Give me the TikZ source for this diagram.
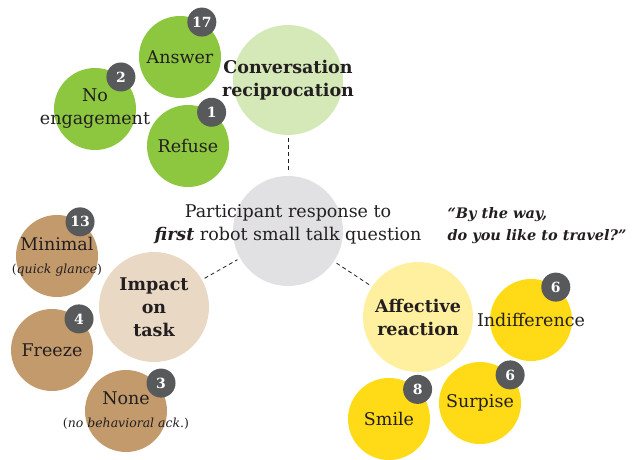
\documentclass[tikz,border=0pt]{standalone}
\usepackage{fontspec}
\setmainfont{DejaVu Serif}
\usepackage{xcolor}
\usetikzlibrary{positioning}

\definecolor{leafgreen}{HTML}{8DC63F}
\definecolor{hubgreen}{HTML}{D5E8B8}
\definecolor{hubgrey}{HTML}{E1E1E3}
\definecolor{leaftan}{HTML}{C39A6B}
\definecolor{hubtan}{HTML}{E9D8C4}
\definecolor{leafyellow}{HTML}{FFDA17}
\definecolor{hubyellow}{HTML}{FFF0A0}
\definecolor{badgegrey}{HTML}{58595B}
\definecolor{ink}{HTML}{231F20}

\newcommand{\notesize}{\fontsize{12.5}{14}\selectfont}

\begin{document}
\begin{tikzpicture}[
    x=1pt, y=-1pt,
    font=\fontsize{17.5}{23}\selectfont,
    % Styles
    hub/.style={circle, fill=#1, minimum size=110pt, inner sep=0pt},
    leaf/.style={circle, fill=#1, minimum size=82pt, inner sep=0pt},
    badge/.style={circle, fill=badgegrey, minimum size=29pt, inner sep=0pt, text=white, font=\fontsize{14}{14}\selectfont\bfseries},
    txt/.style={align=center, text=ink},
    hubtxt/.style={align=center, text=ink, font=\fontsize{17.5}{23}\selectfont\bfseries},
    link/.style={draw=ink, line width=0.8pt, dash pattern=on 4pt off 3pt, shorten >=3pt, shorten <=3pt}
]
\useasboundingbox (0,0) rectangle (634,459);

% --- Centre ---
\node[hub=hubgrey] (resp) at (288,231) {};
\node[txt] (resptext) at (288,224) {Participant response to\\\textbf{\textit{first}} robot small talk question};
\node[txt, font=\fontsize{14.5}{22}\selectfont\bfseries\itshape, align=left, anchor=west] (quote) at (444,226) {``By the way,\\do you like to travel?''};

% --- Conversation reciprocation (Top) ---
\node[hub=hubgreen] (conv) at (288,80) {};
\node[leaf=leafgreen] (answer) at (180,57) {};
\node[leaf=leafgreen] (noeng) at (95,109) {};
\node[leaf=leafgreen] (refuse) at (188,146) {};

\node[hubtxt] (convtext) at (conv) {Conversation\\reciprocation};
\node[txt] (answertext) at (answer) {Answer};
\node[txt] (noengtext) at (noeng) {No\\engagement};
\node[txt] (refusetext) at (refuse) {Refuse};

\node[badge] (answerbadge) at (answer.58) {17};
\node[badge] (noengbadge) at (noeng.51) {2};
\node[badge] (refusebadge) at (refuse.55) {1};

% --- Impact on task (Left) ---
\node[hub=hubtan] (impact) at (154,307) {};
\node[leaf=leaftan] (minimal) at (57,256) {};
\node[leaf=leaftan] (freeze) at (52,350) {};
\node[leaf=leaftan] (none) at (126,411) {};

\node[hubtxt] (impacttext) at (impact) {Impact\\on\\task};
\node[txt] (minimaltext) at (57,257) {Minimal\\{\notesize(\textit{quick glance})}};
\node[txt] (freezetext) at (freeze) {Freeze};
\node[txt] (nonetext) at (126,411) {None\\{\notesize(\textit{no behavioral ack.})}};

\node[badge] (minimalbadge) at (minimal.56) {13};
\node[badge] (freezebadge) at (freeze.49) {4};
\node[badge, xshift=3pt, yshift=2pt] (nonebadge) at (none.39) {3};

% --- Affective reaction (Right) ---
\node[hub=hubyellow] (affect) at (418,317) {};
\node[leaf=leafyellow] (indiff) at (531,320) {};
\node[leaf=leafyellow] (surprise) at (480,403) {};
\node[leaf=leafyellow] (smile) at (389,419) {};

\node[hubtxt] (affecttext) at (affect) {Affective\\reaction};
\node[txt] (indifftext) at (indiff) {Indifference};
\node[txt] (surprisetext) at (surprise) {Surpise};
\node[txt] (smiletext) at (smile) {Smile};

\node[badge] (indiffbadge) at (indiff.53) {6};
\node[badge] (surprisebadge) at (surprise.43) {6};
\node[badge] (smilebadge) at (smile.46) {8};

% --- Connections ---
\draw[link] (conv) -- (resp);
\draw[link] (impact) -- (resp);
\draw[link] (resp) -- (affect);

\end{tikzpicture}
\end{document}
